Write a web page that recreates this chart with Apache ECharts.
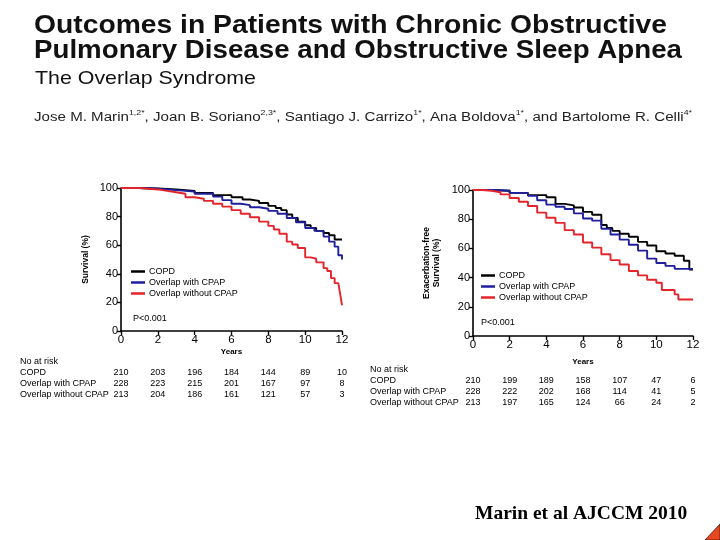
<!DOCTYPE html>
<html><head><meta charset="utf-8">
<script src="https://cdn.jsdelivr.net/npm/echarts@6/dist/echarts.min.js"></script>
<style>html,body{margin:0;padding:0;background:#fff}#c{width:720px;height:540px}</style>
</head><body><div id="c"></div>
<script>
// ---- Data ----
var seriesNames = ['COPD', 'Overlap with CPAP', 'Overlap without CPAP'];
var xTicks = [0, 2, 4, 6, 8, 10, 12];

// Left panel: Survival (%)
var survCopdX = [0, 1, 2, 3, 4, 5, 6, 6.6, 7, 7.5, 8, 8.4, 8.7, 9, 9.3, 9.6, 10, 10.3, 10.6, 11, 11.3, 11.6, 12];
var survCopdY = [100, 99.6, 99, 98, 96.5, 95, 93.5, 92, 91, 89.5, 87.5, 86, 84.5, 81.5, 79, 76.5, 74, 72, 70, 68.5, 67, 64, 64];
var survCpapX = [0, 1, 2, 3, 4, 5, 5.5, 6, 6.5, 7, 7.5, 8, 8.5, 9, 9.5, 10, 10.5, 11, 11.3, 11.6, 11.8, 12];
var survCpapY = [100, 99.5, 98.5, 97.5, 96, 94, 91.5, 89, 88, 86.5, 85.5, 84, 82, 79, 76, 72, 70, 66, 62.5, 59, 53, 50];
var survNoX = [0, 1, 1.5, 2, 2.5, 3, 3.5, 4, 4.5, 5, 5.5, 6, 6.5, 7, 7.5, 8, 8.3, 8.6, 9, 9.3, 9.6, 10, 10.3, 10.6, 11, 11.2, 11.4, 11.6, 11.8, 11.9, 12];
var survNoY = [100, 99.5, 99, 98, 97, 96, 93.5, 92.5, 91, 89, 87, 84.5, 82, 79.5, 76.5, 73.5, 71, 68, 62.5, 60.5, 58, 51.5, 50.5, 48, 44, 42, 37, 33.5, 33, 26, 18];

// Right panel: Exacerbation-free survival (%)
var exaCopdX = [0, 1, 2, 3, 4, 4.5, 5, 5.5, 6, 6.5, 7, 7.3, 7.6, 8, 8.5, 9, 9.5, 10, 10.5, 11, 11.5, 11.8, 12];
var exaCopdY = [100, 99.5, 98, 96.5, 95, 90.5, 89.5, 88, 85, 83, 76, 74, 72, 70, 68, 64.5, 62, 58, 56.5, 55, 51.5, 45.5, 45.5];
var exaCpapX = [0, 1, 2, 3, 3.5, 4, 4.5, 5, 5.5, 6, 6.5, 7, 7.5, 8, 8.5, 9, 9.5, 10, 10.5, 11, 12];
var exaCpapY = [100, 99.5, 98, 96, 93, 90, 88.5, 87, 84, 80.5, 79, 73.5, 69.5, 66, 62.5, 58.5, 53, 50, 48, 46, 46];
var exaNoX = [0, 0.5, 1, 1.5, 2, 2.5, 3, 3.5, 4, 4.5, 5, 5.5, 6, 6.5, 7, 7.5, 8, 8.5, 9, 9.5, 10, 10.3, 11, 11.2, 12];
var exaNoY = [100, 99.5, 98.5, 97, 94.5, 92, 89, 84.5, 81, 77.5, 72.5, 69.5, 64, 60.5, 56, 52, 49, 44.5, 41.5, 38.5, 36.5, 31.5, 28.5, 25, 25];

// Numbers at risk (tick labels of tables)
var riskLeftCopd = [210, 203, 196, 184, 144, 89, 10];
var riskLeftCpap = [228, 223, 215, 201, 167, 97, 8];
var riskLeftNo = [213, 204, 186, 161, 121, 57, 3];
var riskRightCopd = [210, 199, 189, 158, 107, 47, 6];
var riskRightCpap = [228, 222, 202, 168, 114, 41, 5];
var riskRightNo = [213, 197, 165, 124, 66, 24, 2];

// ---- Chart ----
var colors = ['#000000', '#1f1f9e', '#e3242b'];
function pairs(xs, ys) { return xs.map(function (x, i) { return [x, ys[i]]; }); }

var chart = echarts.init(document.getElementById('c'), null, { renderer: 'canvas' });

function xAxisCfg(gi, gap) {
  return {
    gridIndex: gi, type: 'value', min: 0, max: 12, interval: 2,
    name: 'Years', nameLocation: 'middle', nameGap: gap,
    nameTextStyle: { fontFamily: 'Liberation Sans', fontWeight: 'bold', fontSize: 8, color: '#000' },
    axisLine: { lineStyle: { color: '#000', width: 1.6 } },
    axisTick: { length: 4, lineStyle: { color: '#000', width: 1.4 } },
    axisLabel: { color: '#000', fontFamily: 'Liberation Sans', fontSize: 11.5, margin: 3 },
    splitLine: { show: false }
  };
}
function yAxisCfg(gi, name, gap) {
  return {
    gridIndex: gi, type: 'value', min: 0, max: 100, interval: 20,
    name: name, nameLocation: 'middle', nameGap: gap, nameRotate: 90,
    nameTextStyle: { fontFamily: 'Liberation Sans', fontWeight: 'bold', fontSize: 8.5, color: '#000', lineHeight: 10 },
    axisLine: { show: true, lineStyle: { color: '#000', width: 1.6 } },
    axisTick: { show: true, length: 4, lineStyle: { color: '#000', width: 1.4 } },
    axisLabel: { color: '#000', fontFamily: 'Liberation Sans', fontSize: 11, margin: 3 },
    splitLine: { show: false }
  };
}
function line(name, xi, data, color) {
  return {
    type: 'line', name: name, xAxisIndex: xi, yAxisIndex: xi, data: data,
    step: 'end', showSymbol: false, symbol: 'none', color: color,
    lineStyle: { color: color, width: 1.9 }
  };
}
function legendCfg(left, top) {
  return {
    left: left, top: top, orient: 'vertical', icon: 'rect', itemWidth: 14, itemHeight: 2.5,
    itemGap: 2, data: seriesNames,
    textStyle: { fontFamily: 'Liberation Sans', fontSize: 9, color: '#000', lineHeight: 9, padding: [0, 0, 0, -1] },
    padding: 0, selectedMode: false
  };
}

chart.setOption({
  animation: false,
  backgroundColor: '#ffffff',
  grid: [
    { left: 121, top: 188, width: 221, height: 143 },
    { left: 473, top: 190, width: 220, height: 146 }
  ],
  xAxis: [xAxisCfg(0, 17), xAxisCfg(1, 22)],
  yAxis: [yAxisCfg(0, 'Survival (%)', 30), yAxisCfg(1, 'Exacerbation-free\nSurvival (%)', 31)],
  legend: [legendCfg(131, 267), legendCfg(481, 271)],
  series: [
    line(seriesNames[0], 0, pairs(survCopdX, survCopdY), colors[0]),
    line(seriesNames[1], 0, pairs(survCpapX, survCpapY), colors[1]),
    line(seriesNames[2], 0, pairs(survNoX, survNoY), colors[2]),
    line(seriesNames[0], 1, pairs(exaCopdX, exaCopdY), colors[0]),
    line(seriesNames[1], 1, pairs(exaCpapX, exaCpapY), colors[1]),
    line(seriesNames[2], 1, pairs(exaNoX, exaNoY), colors[2])
  ]
});

// ---- Text elements ----
var mc = document.createElement('canvas').getContext('2d');
function tw(font, s) { mc.font = font; return mc.measureText(s).width; }

var g = [];
function fitText(text, x, y, font, width, color) {
  var w = tw(font, text);
  g.push({ type: 'text', x: x, y: y, scaleX: width / w, scaleY: 1,
    style: { text: text, font: font, fill: color, textAlign: 'left', textVerticalAlign: 'top' } });
}
var tf1 = 'bold 25px "Liberation Sans"';
fitText('Outcomes in Patients with Chronic Obstructive', 34, 14, tf1, 633, '#111');
fitText('Pulmonary Disease and Obstructive Sleep Apnea', 34, 39, tf1, 648, '#111');
fitText('The Overlap Syndrome', 35, 69, '19px "Liberation Sans"', 221, '#111');

// authors with superscripts
var authors = [['Jose M. Marin', '1,2*'], [', Joan B. Soriano', '2,3*'], [', Santiago J. Carrizo', '1*'],
  [', Ana Boldova', '1*'], [', and Bartolome R. Celli', '4*']];
var af = '12px "Liberation Sans"', sf = '7px "Liberation Sans"';
var totalW = 0;
authors.forEach(function (a) { totalW += tw(af, a[0]) + tw(sf, a[1]); });
var aScale = 658 / totalW, ax = 34;
authors.forEach(function (a) {
  g.push({ type: 'text', x: ax, y: 112, scaleX: aScale, style: { text: a[0], font: af, fill: '#222', textVerticalAlign: 'top' } });
  ax += tw(af, a[0]) * aScale;
  g.push({ type: 'text', x: ax, y: 110, scaleX: aScale, style: { text: a[1], font: sf, fill: '#222', textVerticalAlign: 'top' } });
  ax += tw(sf, a[1]) * aScale;
});

// p-values
g.push({ type: 'text', x: 133, y: 319, style: { text: 'P<0.001', font: '9px "Liberation Sans"', fill: '#000', textVerticalAlign: 'middle' } });
g.push({ type: 'text', x: 481, y: 323, style: { text: 'P<0.001', font: '9px "Liberation Sans"', fill: '#000', textVerticalAlign: 'middle' } });

// numbers at risk tables
function riskTable(axisIdx, labelX, yTop, rows) {
  var tf = '9px "Liberation Sans"';
  g.push({ type: 'text', x: labelX, y: yTop, style: { text: 'No at risk', font: tf, fill: '#000', textVerticalAlign: 'middle' } });
  rows.forEach(function (r, ri) {
    var yy = yTop + 11 * (ri + 1);
    g.push({ type: 'text', x: labelX, y: yy, style: { text: seriesNames[ri], font: tf, fill: '#000', textVerticalAlign: 'middle' } });
    r.forEach(function (v, i) {
      var px = chart.convertToPixel({ xAxisIndex: axisIdx }, xTicks[i]);
      g.push({ type: 'text', x: px, y: yy, style: { text: String(v), font: tf, fill: '#000', textAlign: 'center', textVerticalAlign: 'middle' } });
    });
  });
}
riskTable(0, 20, 362, [riskLeftCopd, riskLeftCpap, riskLeftNo]);
riskTable(1, 370, 370, [riskRightCopd, riskRightCpap, riskRightNo]);

// citation
g.push({ type: 'text', x: 475, y: 504, style: { text: 'Marin et al AJCCM 2010', font: 'bold 19.5px "Liberation Serif"', fill: '#000', textVerticalAlign: 'top' } });
// corner decoration
g.push({ type: 'polygon', shape: { points: [[720, 524], [720, 540], [705, 540]] }, style: { fill: '#e8461e', stroke: '#3a1a10', lineWidth: 0.8 } });

chart.setOption({ graphic: g });
</script>
</body></html>
